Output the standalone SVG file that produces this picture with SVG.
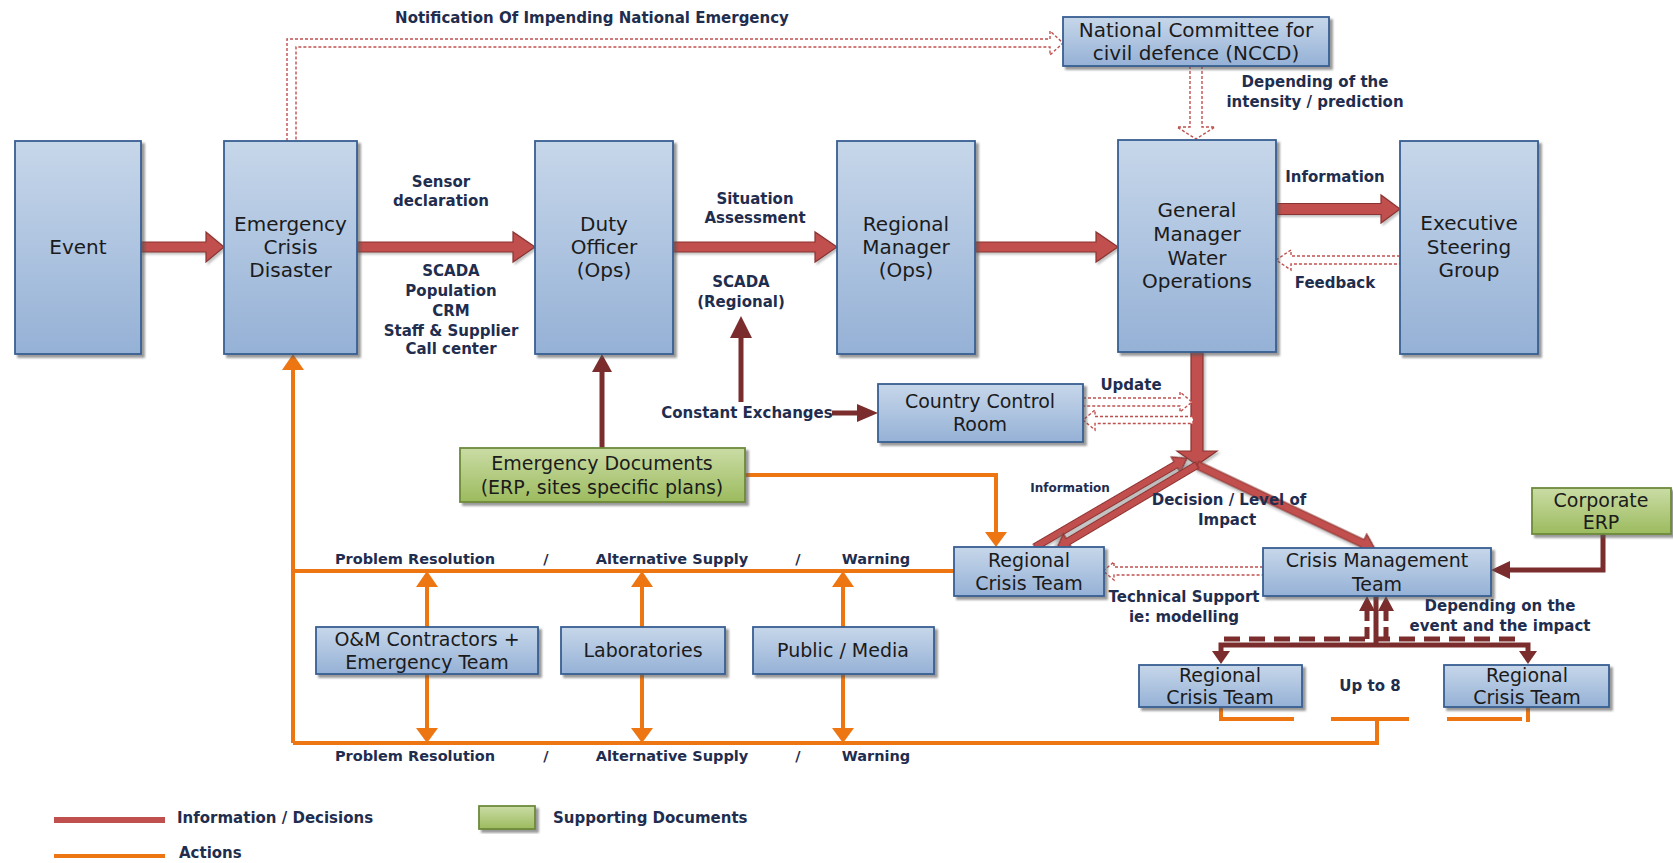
<svg xmlns="http://www.w3.org/2000/svg" width="1673" height="863" viewBox="0 0 1673 863">
  <defs>
    <linearGradient id="gBlue" x1="0" y1="0" x2="0" y2="1">
      <stop offset="0" stop-color="#c7d7ea"/>
      <stop offset="1" stop-color="#95b1d6"/>
    </linearGradient>
    <linearGradient id="gGreen" x1="0" y1="0" x2="0" y2="1">
      <stop offset="0" stop-color="#cadca5"/>
      <stop offset="1" stop-color="#9cbb5e"/>
    </linearGradient>
    <filter id="shadow" x="-10%" y="-10%" width="130%" height="130%">
      <feDropShadow dx="3" dy="3" stdDeviation="1.2" flood-color="#555" flood-opacity="0.6"/>
    </filter>
    <filter id="ashadow" x="-10%" y="-30%" width="130%" height="160%">
      <feDropShadow dx="2" dy="2" stdDeviation="1" flood-color="#777" flood-opacity="0.45"/>
    </filter>
  </defs>
  <style>
    .box { fill: url(#gBlue); stroke: #375f92; stroke-width: 1.8; filter: url(#shadow); }
    .doc { fill: url(#gGreen); stroke: #6d8a3a; stroke-width: 1.8; filter: url(#shadow); }
    .nt { font-family: "DejaVu Sans", sans-serif; font-size: 20px; fill: #1b1b1b; text-anchor: middle; dominant-baseline: central; }
    .ns { font-size: 19px; }
    .lb { font-family: "DejaVu Sans", sans-serif; font-size: 15px; font-weight: bold; fill: #1f2d4e; text-anchor: middle; dominant-baseline: central; }
    .lbs { font-size: 14.5px; }
    .lbl { text-anchor: start; }
    .blk { fill: #c0504d; stroke: #8b3331; stroke-width: 1.2; stroke-linejoin: miter; filter: url(#ashadow); }
    .hol { fill: #fff; stroke: #c0504d; stroke-width: 1.4; stroke-dasharray: 3 2; }
    .dr { fill: none; stroke: #7b2c2c; stroke-width: 5; }
    .drh { fill: #7b2c2c; }
    .or { fill: none; stroke: #ee7612; stroke-width: 4; }
    .orh { fill: #ee7612; }
  </style>

  <!-- connectors -->
  <g id="connectors">
    <!-- information / decision flow (block arrows) -->
    <polygon class="blk" points="141,242 206,242 206,232 224,247 206,262 206,252 141,252"/>
    <polygon class="blk" points="357,242 513,242 513,232 535,247 513,262 513,252 357,252"/>
    <polygon class="blk" points="673,242 815,242 815,232 837,247 815,262 815,252 673,252"/>
    <polygon class="blk" points="975,242 1096,242 1096,232 1118,247 1096,262 1096,252 975,252"/>
    <polygon class="blk" points="1276,203.5 1381,203.5 1381,195 1400,209 1381,223 1381,214.5 1276,214.5"/>
    <polygon class="blk" points="1191,352 1191,451 1177,451 1197,465 1217,451 1203,451 1203,352"/>
    <polygon class="blk" transform="translate(1197,465) rotate(25.3)" points="0,-4 183,-4 183,-10 197,0 183,10 183,4 0,4"/>
    <polygon class="blk" transform="translate(1035,547) rotate(-30.3)" points="0,-3.5 163,-3.5 163,-9 176,0 163,9 163,3.5 0,3.5"/>
    <polygon class="blk" transform="translate(1197,465) rotate(149.3)" points="0,-3.5 150,-3.5 150,-9 163,0 150,9 150,3.5 0,3.5"/>

    <!-- hollow dashed arrows -->
    <path class="hol" d="M287,141 L287,39 L1050,39 L1050,31 L1063,43 L1050,55 L1050,47 L296,47 L296,141"/>
    <polygon class="hol" points="1190,66 1190,127 1177,127 1196,139 1215,127 1202,127 1202,66"/>
    <polygon class="hol" points="1400,256 1291,256 1291,250 1276,260 1291,270 1291,264 1400,264"/>
    <polygon class="hol" points="1083,398 1180,398 1180,392 1192,402 1180,412 1180,406 1083,406"/>
    <polygon class="hol" points="1193,416.5 1095,416.5 1095,410 1083,420 1095,430 1095,423.5 1193,423.5"/>
    <polygon class="hol" points="1263,567 1114,567 1114,562 1103,571 1114,580 1114,575 1263,575"/>

    <!-- dark red thin arrows -->
    <path class="dr" d="M602,448 V370"/>
    <polygon class="drh" points="592,372 602,354 612,372"/>
    <path class="dr" d="M741,402 V336" stroke-width="7"/>
    <polygon class="drh" points="730,338 741,316 752,338"/>
    <path class="dr" d="M832,413 H859" stroke-width="6"/>
    <polygon class="drh" points="857,404 878,413 857,422"/>
    <path class="dr" d="M1603,534 V570 H1508"/>
    <polygon class="drh" points="1510,561 1491,570 1510,579"/>
    <path class="dr" d="M1376,596 V645 M1221,653 V645 H1528 V653" stroke-width="4"/>
    <polygon class="drh" points="1212,651 1221,664 1230,651"/>
    <polygon class="drh" points="1519,651 1528,664 1537,651"/>
    <path class="dr" d="M1224,639 H1522" stroke-width="3" stroke-dasharray="16 9"/>
    <path class="dr" d="M1367,639 V609 M1386,639 V609" stroke-width="3" stroke-dasharray="12 6"/>
    <polygon class="drh" points="1359,611 1367,596 1375,611"/>
    <polygon class="drh" points="1378,611 1386,596 1394,611"/>

    <!-- actions (orange) -->
    <path class="or" d="M745,475 H996 V534"/>
    <polygon class="orh" points="985,532 996,547 1007,532"/>
    <path class="or" d="M293,571 H954"/>
    <path class="or" d="M293,743 V368"/>
    <polygon class="orh" points="282,370 293,354 304,370"/>
    <path class="or" d="M293,743 H1377 V719"/>
    <path class="or" d="M1221,707 V719 H1294 M1331,719 H1409 M1447,719 H1522 M1528,707 V722"/>
    <path class="or" d="M427,627 V585 M427,674 V730"/>
    <polygon class="orh" points="416,587 427,571 438,587"/>
    <polygon class="orh" points="416,728 427,743 438,728"/>
    <path class="or" d="M642,627 V585 M642,674 V730"/>
    <polygon class="orh" points="631,587 642,571 653,587"/>
    <polygon class="orh" points="631,728 642,743 653,728"/>
    <path class="or" d="M843,627 V585 M843,674 V730"/>
    <polygon class="orh" points="832,587 843,571 854,587"/>
    <polygon class="orh" points="832,728 843,743 854,728"/>

    <!-- connector labels -->
    <text class="lb" x="592" y="18">Notification Of Impending National Emergency</text>
    <text class="lb" x="441" y="182">Sensor</text>
    <text class="lb" x="441" y="201">declaration</text>
    <text class="lb" x="451" y="271">SCADA</text>
    <text class="lb" x="451" y="291">Population</text>
    <text class="lb" x="451" y="311">CRM</text>
    <text class="lb" x="451" y="331">Staff &amp; Supplier</text>
    <text class="lb" x="451" y="349">Call center</text>
    <text class="lb" x="755" y="199">Situation</text>
    <text class="lb" x="755" y="218">Assessment</text>
    <text class="lb" x="741" y="282">SCADA</text>
    <text class="lb" x="741" y="302">(Regional)</text>
    <text class="lb" x="1315" y="82">Depending of the</text>
    <text class="lb" x="1315" y="102">intensity / prediction</text>
    <text class="lb" x="1335" y="177">Information</text>
    <text class="lb" x="1335" y="283">Feedback</text>
    <text class="lb" x="747" y="413">Constant Exchanges</text>
    <text class="lb" x="1131" y="385">Update</text>
    <text class="lb" x="1070" y="488" style="font-size:12px">Information</text>
    <text class="lb" x="1229" y="500">Decision / Level of</text>
    <text class="lb" x="1227" y="520">Impact</text>
    <text class="lb" x="1184" y="597">Technical Support</text>
    <text class="lb" x="1184" y="617">ie: modelling</text>
    <text class="lb" x="1500" y="606">Depending on the</text>
    <text class="lb" x="1500" y="626">event and the impact</text>
    <text class="lb" x="1370" y="686">Up to 8</text>
    <text class="lb lbs" x="415" y="559">Problem Resolution</text>
    <text class="lb lbs" x="546" y="559">/</text>
    <text class="lb lbs" x="672" y="559">Alternative Supply</text>
    <text class="lb lbs" x="798" y="559">/</text>
    <text class="lb lbs" x="876" y="559">Warning</text>
    <text class="lb lbs" x="415" y="756">Problem Resolution</text>
    <text class="lb lbs" x="546" y="756">/</text>
    <text class="lb lbs" x="672" y="756">Alternative Supply</text>
    <text class="lb lbs" x="798" y="756">/</text>
    <text class="lb lbs" x="876" y="756">Warning</text>
  </g>

  <!-- nodes -->
  <g id="event">
    <rect class="box" x="15" y="141" width="126" height="213"/>
    <text class="nt" x="78" y="247">Event</text>
  </g>
  <g id="emergency">
    <rect class="box" x="224" y="141" width="133" height="213"/>
    <text class="nt" x="290.5" y="224">Emergency</text>
    <text class="nt" x="290.5" y="247">Crisis</text>
    <text class="nt" x="290.5" y="270">Disaster</text>
  </g>
  <g id="duty-officer">
    <rect class="box" x="535" y="141" width="138" height="213"/>
    <text class="nt" x="604" y="224">Duty</text>
    <text class="nt" x="604" y="247">Officer</text>
    <text class="nt" x="604" y="270">(Ops)</text>
  </g>
  <g id="regional-manager">
    <rect class="box" x="837" y="141" width="138" height="213"/>
    <text class="nt" x="906" y="224">Regional</text>
    <text class="nt" x="906" y="247">Manager</text>
    <text class="nt" x="906" y="270">(Ops)</text>
  </g>
  <g id="general-manager">
    <rect class="box" x="1118" y="140" width="158" height="212"/>
    <text class="nt" x="1197" y="210">General</text>
    <text class="nt" x="1197" y="234">Manager</text>
    <text class="nt" x="1197" y="258">Water</text>
    <text class="nt" x="1197" y="281">Operations</text>
  </g>
  <g id="executive">
    <rect class="box" x="1400" y="141" width="138" height="213"/>
    <text class="nt" x="1469" y="223">Executive</text>
    <text class="nt" x="1469" y="247">Steering</text>
    <text class="nt" x="1469" y="270">Group</text>
  </g>
  <g id="nccd">
    <rect class="box" x="1063" y="17" width="266" height="49"/>
    <text class="nt" x="1196" y="30">National Committee for</text>
    <text class="nt" x="1196" y="53">civil defence (NCCD)</text>
  </g>
  <g id="country-control-room">
    <rect class="box" x="878" y="384" width="205" height="58"/>
    <text class="nt ns" x="980" y="401">Country Control</text>
    <text class="nt ns" x="980" y="424">Room</text>
  </g>
  <g id="emergency-documents">
    <rect class="doc" x="460" y="448" width="285" height="54"/>
    <text class="nt ns" x="602" y="463">Emergency Documents</text>
    <text class="nt ns" x="602" y="487">(ERP, sites specific plans)</text>
  </g>
  <g id="regional-crisis-team">
    <rect class="box" x="954" y="547" width="150" height="49"/>
    <text class="nt ns" x="1029" y="560">Regional</text>
    <text class="nt ns" x="1029" y="583">Crisis Team</text>
  </g>
  <g id="crisis-management-team">
    <rect class="box" x="1263" y="548" width="228" height="48"/>
    <text class="nt ns" x="1377" y="560">Crisis Management</text>
    <text class="nt ns" x="1377" y="584">Team</text>
  </g>
  <g id="corporate-erp">
    <rect class="doc" x="1532" y="488" width="139" height="46"/>
    <text class="nt ns" x="1601" y="500">Corporate</text>
    <text class="nt ns" x="1601" y="522">ERP</text>
  </g>
  <g id="om-contractors">
    <rect class="box" x="316" y="627" width="222" height="47"/>
    <text class="nt ns" x="427" y="639">O&amp;M Contractors +</text>
    <text class="nt ns" x="427" y="662">Emergency Team</text>
  </g>
  <g id="laboratories">
    <rect class="box" x="561" y="627" width="164" height="47"/>
    <text class="nt ns" x="643" y="650">Laboratories</text>
  </g>
  <g id="public-media">
    <rect class="box" x="753" y="627" width="181" height="47"/>
    <text class="nt ns" x="843" y="650">Public / Media</text>
  </g>
  <g id="regional-crisis-team-a">
    <rect class="box" x="1139" y="665" width="163" height="42"/>
    <text class="nt ns" x="1220" y="675">Regional</text>
    <text class="nt ns" x="1220" y="697">Crisis Team</text>
  </g>
  <g id="regional-crisis-team-b">
    <rect class="box" x="1444" y="665" width="165" height="42"/>
    <text class="nt ns" x="1527" y="675">Regional</text>
    <text class="nt ns" x="1527" y="697">Crisis Team</text>
  </g>

  <!-- legend -->
  <g id="legend">
    <path d="M54,820 H165" stroke="#c0504d" stroke-width="6"/>
    <text class="lb lbl" x="177" y="818">Information / Decisions</text>
    <path d="M54,856 H165" stroke="#ee7612" stroke-width="4"/>
    <text class="lb lbl" x="179" y="853">Actions</text>
    <rect class="doc" x="479" y="806" width="56" height="23"/>
    <text class="lb lbl" x="553" y="818">Supporting Documents</text>
  </g>
</svg>
